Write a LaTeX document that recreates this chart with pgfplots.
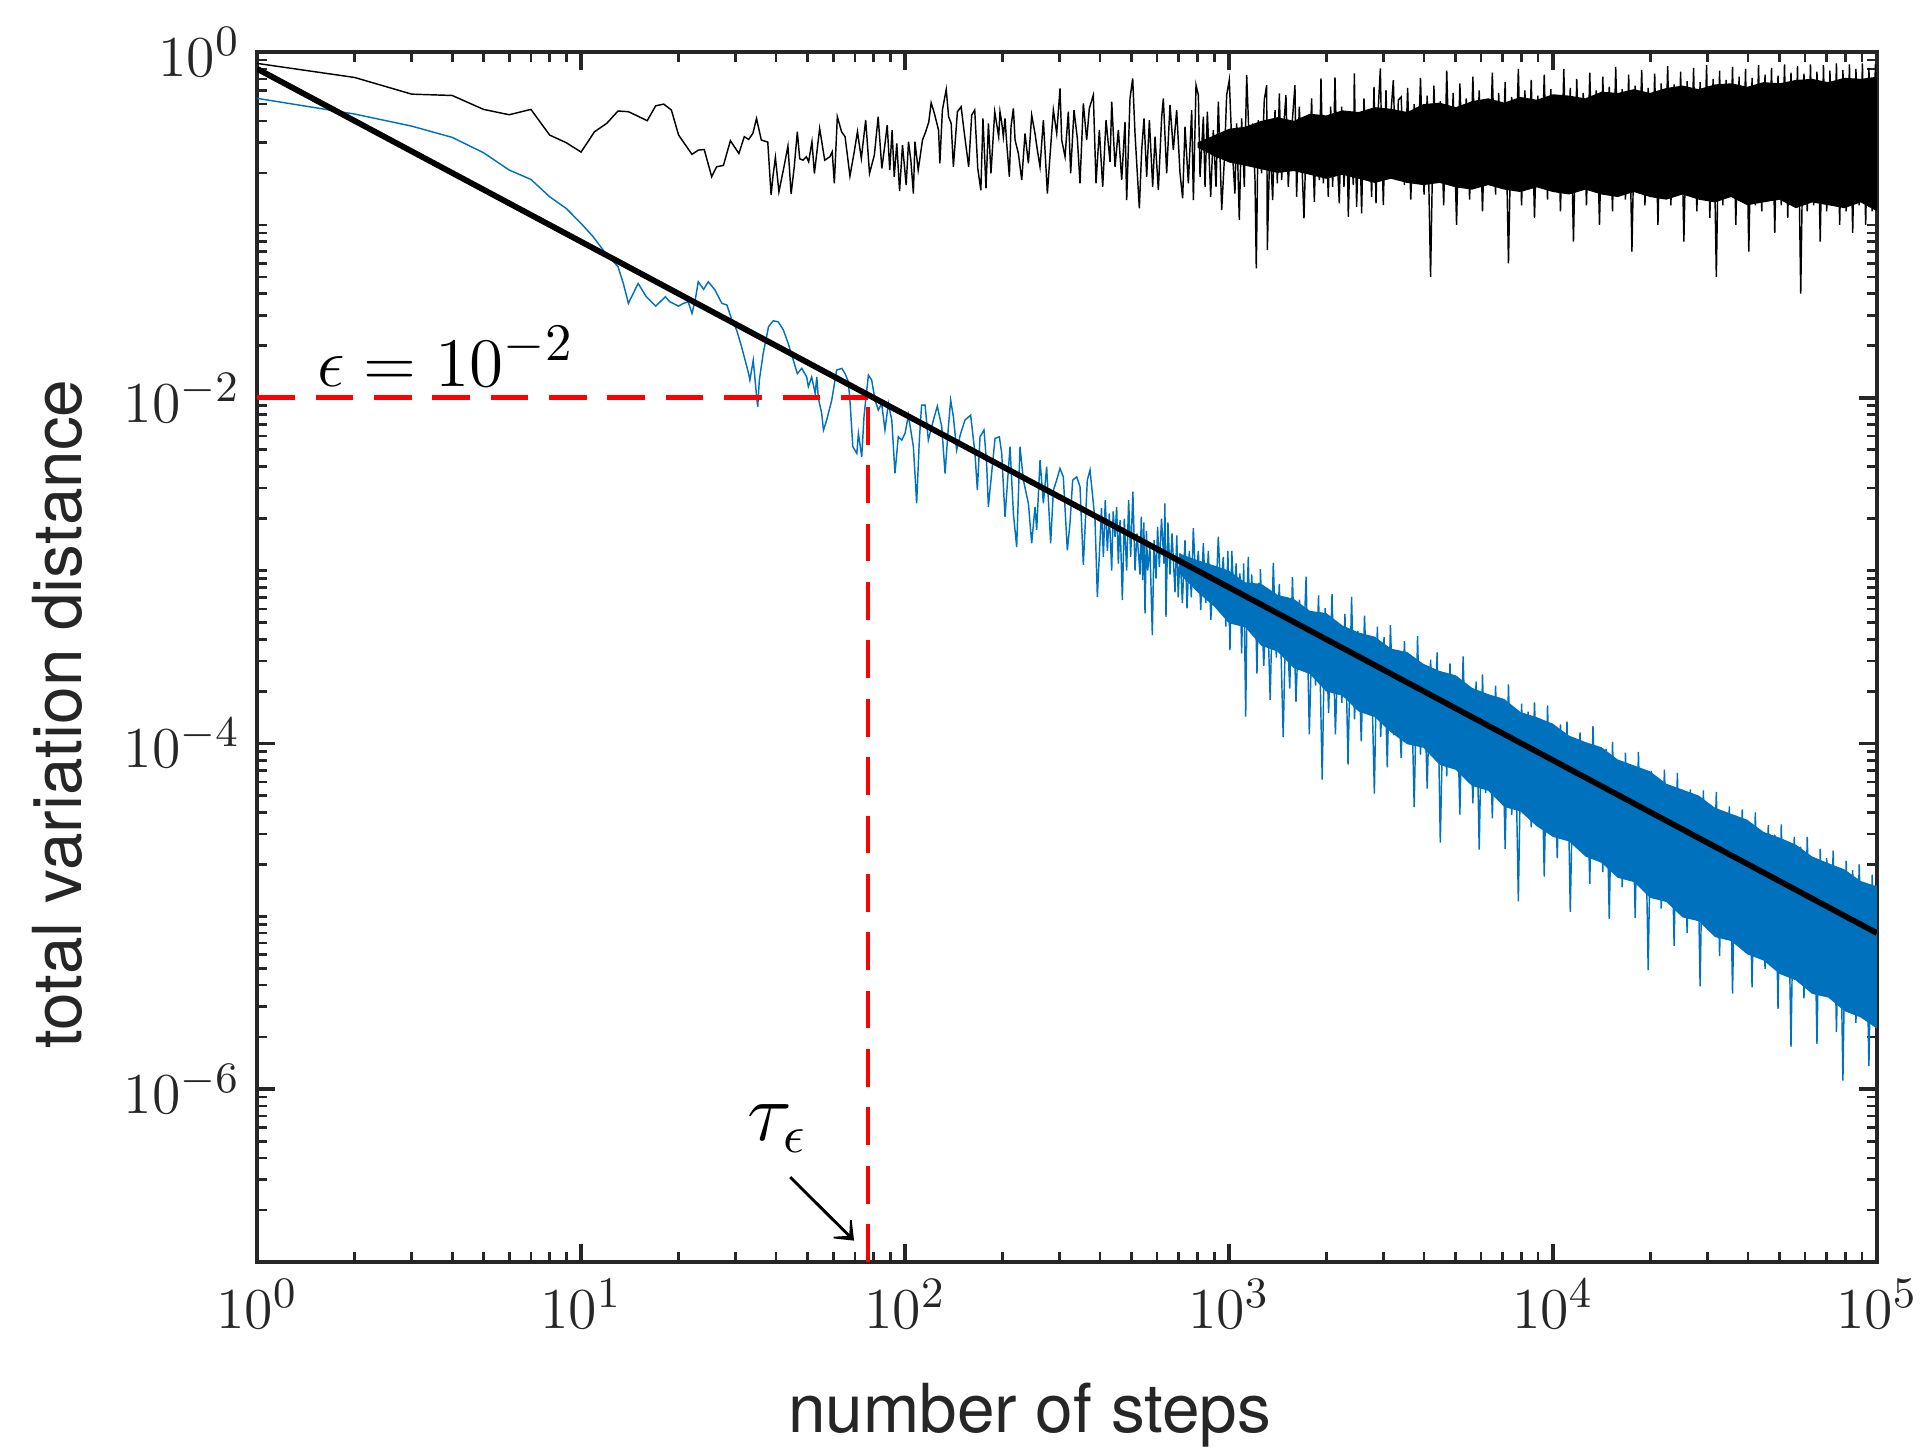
\documentclass[border=0pt]{standalone}
\usepackage{pgfplots}
\pgfplotsset{compat=1.18}
\usepackage{fontspec}
\newfontfamily\heros{TeX Gyre Heros}
\usetikzlibrary{arrows.meta}
\definecolor{axgray}{HTML}{262626}
\definecolor{mblue}{HTML}{0072BD}

\begin{document}
\begin{tikzpicture}
\path[use as bounding box] (-53.3pt,-39.8pt) rectangle (346.75pt,261.6pt);
\begin{axis}[
  at={(0,0)}, anchor=south west,
  scale only axis, width=335.75pt, height=250.8pt,
  xmode=log, ymode=log,
  xmin=1, xmax=1e5, ymin=1e-7, ymax=1,
  xtick={1,10,100,1000,10000,100000},
  ytick={1e-6,1e-4,1e-2,1},
  minor xtick={2,3,4,5,6,7,8,9,20,30,40,50,60,70,80,90,200,300,400,500,600,700,800,900,
    2000,3000,4000,5000,6000,7000,8000,9000,20000,30000,40000,50000,60000,70000,80000,90000},
  minor ytick={2e-7,3e-7,4e-7,5e-7,6e-7,7e-7,8e-7,9e-7,
    2e-6,3e-6,4e-6,5e-6,6e-6,7e-6,8e-6,9e-6,1e-5,
    2e-5,3e-5,4e-5,5e-5,6e-5,7e-5,8e-5,9e-5,
    2e-4,3e-4,4e-4,5e-4,6e-4,7e-4,8e-4,9e-4,1e-3,
    2e-3,3e-3,4e-3,5e-3,6e-3,7e-3,8e-3,9e-3,
    2e-2,3e-2,4e-2,5e-2,6e-2,7e-2,8e-2,9e-2,1e-1,
    2e-1,3e-1,4e-1,5e-1,6e-1,7e-1,8e-1,9e-1},
  tick align=inside,
  major tick length=3.7pt, minor tick length=2pt,
  tick style={axgray},
  major tick style={line width=0.8pt},
  minor tick style={line width=0.55pt},
  axis line style={line width=0.8pt, axgray},
  tick label style={font=\fontsize{12.5}{14}\selectfont, text=axgray},
  xlabel={number of steps}, ylabel={total variation distance},
  label style={font=\heros\fontsize{14}{16}\selectfont, text=axgray},
  xlabel style={at={(axis description cs:0.477,0)}, anchor=base, yshift=-35.4pt},
  ylabel style={at={(axis description cs:-0.1231,0.453)}, anchor=center},
]

% ---- chain started far from equilibrium (black, thin) ----
% solid core of the dense part of the trace
\addplot[black, draw=none, fill=black] coordinates {
 (800,0.30) (900,0.33) (1000,0.36) (1122,0.37) (1259,0.40) (1413,0.42)
 (1585,0.40) (1778,0.44) (1995,0.43) (2239,0.46) (2512,0.45) (2818,0.48) (3162,0.47) (3548,0.45) (3981,0.50)
 (4467,0.51) (5012,0.48) (5623,0.52) (6310,0.54) (7079,0.51) (7943,0.55) (8913,0.53) (10000,0.57) (11220,0.56)
 (12590,0.54) (14130,0.59) (15850,0.58) (17780,0.61) (19950,0.58) (22390,0.62) (25120,0.64) (28180,0.61)
 (31620,0.65) (35480,0.66) (39810,0.63) (44670,0.67) (50120,0.66) (56230,0.69) (63100,0.70) (70790,0.67)
 (79430,0.71) (89130,0.70) (100000,0.72)
 (100000,0.12) (89130,0.135) (79430,0.125) (70790,0.13) (63100,0.135) (56230,0.125) (50120,0.14) (44670,0.135)
 (39810,0.13) (35480,0.145) (31620,0.135) (28180,0.14) (25120,0.15) (22390,0.14) (19950,0.145) (17780,0.155)
 (15850,0.145) (14130,0.15) (12590,0.16) (11220,0.15) (10000,0.155) (8913,0.165) (7943,0.155) (7079,0.16)
 (6310,0.17) (5623,0.16) (5012,0.165) (4467,0.175) (3981,0.17) (3548,0.175) (3162,0.185) (2818,0.175)
 (2512,0.185) (2239,0.195) (1995,0.185) (1778,0.195) (1585,0.205) (1413,0.2) (1259,0.21) (1122,0.22)
 (1000,0.23) (900,0.25) (800,0.28)
} -- cycle;
\addplot[black, line width=0.3pt] coordinates {
 (1,0.86) (2,0.713) (3,0.571) (4,0.561) (5,0.466) (6,0.434) (7,0.466) (8,0.331) (9,0.299) (10,0.264)
 (11,0.346) (12,0.387) (13,0.456) (14,0.452) (15,0.425) (16,0.401) (17,0.489) (18,0.50) (19,0.462) (20,0.331)
 (21,0.29) (22,0.256) (23,0.271) (24,0.273) (25.3,0.190) (26.2,0.217) (27.5,0.221) (28.9,0.307) (30.7,0.259)
 (31.9,0.324) (32.9,0.3125) (33.9,0.338) (34.8,0.413) (36.0,0.31) (37.7,0.3015) (38.6,0.149) (39.1,0.190)
 (39.8,0.246) (40.8,0.1556) (42.3,0.217) (43.5,0.286) (44.5,0.151) (45.5,0.217) (46.5,0.346) (47.3,0.2415)
 (48.4,0.237) (49.6,0.248) (50.4,0.232) (51.6,0.303) (52.5,0.1986) (54.5,0.362) (56.5,0.237) (58.6,0.248)
 (59.6,0.265) (60.5,0.174) (61.8,0.4227) (63.7,0.346) (65.3,0.324) (67.6,0.1917) (69.7,0.265) (71.3,0.346)
 (73.3,0.2426) (75.6,0.4043) (77.7,0.1986) (80.4,0.2535) (82.6,0.4227) (84.8,0.2123) (86.5,0.2835)
 (88.1,0.378) (89.7,0.2077) (91.2,0.3537) (92.6,0.190) (94.3,0.296) (96.2,0.157) (98.2,0.2897) (100.8,0.170)
 (102.5,0.303) (104.2,0.237) (106.1,0.152) (107.3,0.303) (109.8,0.2077) (113.2,0.31) (115.8,0.346)
 (118.4,0.395) (120.4,0.509) (123.2,0.4417) (126.9,0.3537) (128.1,0.227) (130.4,0.462) (134.0,0.608)
 (136.3,0.4227) (138.8,0.3867) (141.0,0.217) (145.1,0.4517) (149.0,0.4828) (152.2,0.346) (157.2,0.217)
 (160.6,0.432) (164.1,0.462) (167.7,0.2123) (171.4,0.1585) (174.0,0.413) (177.8,0.1627) (180.9,0.3867)
 (184.2,0.1986) (189.2,0.4517) (194.6,0.324)
 (196.4,0.452) (198.7,0.395) (201.1,0.324) (203.5,0.413) (206.0,0.296) (209.9,0.190) (212.4,0.370)
 (216.0,0.472) (218.6,0.310) (223.8,0.259) (229.2,0.1817) (234.6,0.338) (240.3,0.227) (246.0,0.432)
 (251.9,0.338) (256.1,0.271) (261.0,0.217) (267.3,0.404) (275.0,0.152) (280.3,0.2535) (287.0,0.462)
 (293.9,0.338) (300.9,0.616) (304.5,0.310) (311.8,0.248) (319.2,0.452) (324.5,0.1987) (332.3,0.462)
 (340.3,0.317) (346.8,0.174) (355.1,0.505) (363.7,0.310) (370.6,0.472) (381.3,0.564) (388.6,0.174)
 (398.0,0.354) (407.5,0.1663) (417.3,0.404) (429.3,0.232) (434.5,0.516) (444.8,0.217) (455.5,0.354)
 (466.4,0.1817) (477.5,0.395) (483.2,0.1393) (494.8,0.539) (504.3,0.704) (512.7,0.338) (528.7,0.1246)
 (537.6,0.271) (546.6,0.413) (557.1,0.190) (567.8,0.404) (581.3,0.1663) (591.1,0.324) (605.2,0.159)
 (619.8,0.4225) (627.1,0.539) (642.1,0.1987) (657.5,0.494) (673.3,0.271) (689.4,0.462) (706.1,0.1987)
 (719.5,0.1424) (731.5,0.370) (749.1,0.174) (767.1,0.462) (776.3,0.1393) (791.1,0.644) (804.3,0.564)
 (813.9,0.190) (833.4,0.4225) (843.3,0.1663) (857.4,0.452) (878.0,0.1456) (894.7,0.354) (911.8,0.1663)
 (927.1,0.516) (949.4,0.122) (967.3,0.237) (983.5,0.564) (1002,0.689) (1019,0.310) (1043,0.152)
 (1056,0.387) (1076,0.1067) (1094,0.413) (1115,0.1663) (1134,0.736) (1161,0.227) (1183,0.387)
 (1203,0.1817) (1214,0.056) (1231,0.404) (1261,0.1987) (1285,0.528) (1307,0.644) (1313,0.0715)
 (1338,0.310) (1364,0.1393) (1387,0.462) (1410,0.174) (1430,0.577) (1454,0.1817) (1478,0.387)
 (1499,0.564) (1524,0.1663) (1543,0.271) (1572,0.4225) (1598,0.644) (1617,0.1456) (1648,0.483)
 (1676,0.248) (1704,0.109) (1737,0.404) (1770,0.1987) (1799,0.539) (1834,0.1362) (1865,0.4225)
 (1900,0.1817) (1923,0.704) (1955,0.174) (1993,0.354) (2025,0.1456) (2060,0.483) (2089,0.1663)
 (2124,0.714) (2149,0.2835) (2190,0.1332) (2227,0.483) (2264,0.1663) (2307,0.4225) (2335,0.1115)
 (2374,0.370) (2419,0.170) (2437,0.753) (2477,0.1274) (2525,0.4225) (2567,0.1166) (2610,0.539)
 (2660,0.1987) (2711,0.404) (2756,0.1456) (2803,0.630) (2843,0.1332) (2891,0.483) (2932,0.804)
 (2960,0.310) (2995,0.1302) (3052,0.603) (3103,0.1987) (3155,0.4225) (3216,0.689) (3278,0.1817)
 (3332,0.528)
 (3400,0.55) (3480,0.17) (3560,0.62) (3640,0.14) (3730,0.5) (3820,0.19) (3900,0.71) (4000,0.15)
 (4090,0.56) (4190,0.05) (4290,0.64) (4390,0.18) (4490,0.52) (4600,0.13) (4700,0.78) (4810,0.17)
 (4920,0.58) (5040,0.1) (5160,0.66) (5280,0.19) (5400,0.54) (5530,0.14) (5660,0.72) (5790,0.17)
 (5920,0.6) (6060,0.12) (6200,0.53) (6350,0.18) (6500,0.76) (6650,0.15) (6800,0.58) (6960,0.17)
 (7120,0.67) (7290,0.06) (7460,0.55) (7640,0.16) (7820,0.8) (8000,0.13) (8190,0.6) (8380,0.18)
 (8570,0.69) (8770,0.11) (8980,0.56) (9190,0.17) (9400,0.74) (9620,0.14) (9850,0.61) (10080,0.18)
 (10310,0.55) (10550,0.12) (10800,0.8) (11050,0.16) (11310,0.62) (11570,0.08) (11840,0.7) (12120,0.17)
 (12400,0.58) (12690,0.13) (12990,0.76) (13290,0.16) (13600,0.6) (13920,0.1) (14250,0.72) (14580,0.17)
 (14920,0.63) (15270,0.12) (15620,0.82) (15990,0.16) (16360,0.61) (16740,0.14) (17130,0.74) (17530,0.07)
 (17940,0.64) (18360,0.17) (18790,0.79) (19230,0.13) (19680,0.62) (20140,0.16) (20610,0.75) (21090,0.1)
 (21580,0.66) (22080,0.15) (22600,0.83) (23120,0.13) (23660,0.65) (24210,0.16) (24780,0.77) (25360,0.08)
 (25950,0.68) (26550,0.15) (27170,0.81) (27810,0.12) (28460,0.67) (29120,0.15) (29800,0.84) (30500,0.11)
 (31210,0.7) (31940,0.05) (32680,0.78) (33450,0.13) (34230,0.69) (35030,0.15) (35840,0.82) (36680,0.1)
 (37540,0.72) (38410,0.14) (39310,0.8) (40230,0.07) (41170,0.71) (42130,0.13) (43110,0.84) (44120,0.12)
 (45150,0.74) (46200,0.14) (47280,0.81) (48380,0.09) (49510,0.73) (50670,0.13) (51850,0.85) (53060,0.11)
 (54300,0.76) (55570,0.13) (56870,0.83) (58190,0.04) (59550,0.75) (60940,0.12) (62360,0.85) (63820,0.13)
 (65310,0.77) (66830,0.08) (68390,0.84) (69990,0.12) (71620,0.78) (73300,0.13) (75010,0.86) (76760,0.1)
 (78550,0.79) (80390,0.12) (82260,0.85) (84180,0.09) (86150,0.8) (88160,0.13) (90210,0.86) (92320,0.1)
 (94470,0.81) (96680,0.12) (98930,0.85) (100000,0.2)
};

% ---- chain started close to equilibrium (blue, thin) ----
% solid core of the dense part of the trace
\addplot[mblue, draw=none, fill=mblue] coordinates {
 (700,1.26e-3) (800,1.15e-3) (900,1.07e-3) (1000,1.0e-3) (1122,8.56e-4) (1259,8.38e-4) (1413,7.24e-4)
 (1585,6.87e-4) (1778,5.85e-4) (1995,5.69e-4) (2239,4.82e-4) (2512,4.39e-4) (2818,4.15e-4) (3162,3.54e-4)
 (3548,3.38e-4) (3981,2.89e-4) (4467,2.63e-4) (5012,2.48e-4) (5623,2.10e-4) (6310,1.93e-4) (7079,1.81e-4)
 (7943,1.52e-4) (8913,1.42e-4) (10000,1.30e-4) (11220,1.11e-4) (12590,1.02e-4) (14130,9.51e-5)
 (15850,8.08e-5) (17780,7.47e-5) (19950,6.90e-5) (22390,5.85e-5) (25120,5.41e-5) (28180,5.0e-5)
 (31620,4.25e-5) (35480,3.92e-5) (39810,3.62e-5) (44670,3.08e-5) (50120,2.85e-5) (56230,2.60e-5)
 (63100,2.22e-5) (70790,2.03e-5) (79430,1.87e-5) (89130,1.60e-5) (100000,1.49e-5)
 (100000,2.24e-6) (89130,2.6e-6) (79430,2.83e-6) (70790,3.39e-6) (63100,3.56e-6) (56230,4.26e-6)
 (50120,4.64e-6) (44670,5.55e-6) (39810,6.03e-6) (35480,7.2e-6) (31620,7.59e-6) (28180,9.37e-6)
 (25120,9.86e-6) (22390,1.21e-5) (19950,1.28e-5) (17780,1.58e-5) (15850,1.67e-5) (14130,2.04e-5)
 (12590,2.22e-5) (11220,2.71e-5) (10000,2.88e-5) (8913,3.32e-5) (7943,4.04e-5) (7079,4.29e-5)
 (6310,5.33e-5) (5623,5.68e-5) (5012,7.04e-5) (4467,7.52e-5) (3981,9.45e-5) (3548,9.9e-5) (3162,1.16e-4)
 (2818,1.42e-4) (2512,1.53e-4) (2239,1.89e-4) (1995,2.0e-4) (1778,2.52e-4) (1585,2.73e-4) (1413,3.4e-4)
 (1259,3.68e-4) (1122,4.7e-4) (1000,4.96e-4) (900,6.2e-4) (800,7.5e-4) (700,9.7e-4)
} -- cycle;
\addplot[mblue, line width=0.3pt] coordinates {
 (1,0.54) (2,0.438) (3,0.373) (4,0.321) (5,0.2616) (6,0.2077) (7,0.1834) (8,0.1455) (9,0.1245) (10,0.102)
 (10.9,0.0854) (11.7,0.0715) (12.6,0.0612) (13.0,0.0573) (13.5,0.0459) (14.0,0.0352) (15.0,0.0459)
 (15.9,0.0384) (17.0,0.0339) (18.2,0.0384) (18.8,0.0359) (20.0,0.0339) (20.7,0.0352) (21.4,0.0359)
 (22.0,0.0308) (22.5,0.0367) (23.0,0.0469) (23.9,0.0424) (24.7,0.0469) (25.9,0.042) (27.2,0.0352)
 (28.2,0.0344) (29.2,0.0282) (30.2,0.0247) (31.3,0.0197) (32.9,0.0138) (33.2,0.01266) (34.0,0.0165)
 (34.9,0.0097) (35.1,0.00888) (35.5,0.01266) (36.5,0.0181) (37.9,0.0258) (39.2,0.0279) (40.6,0.0275)
 (42.1,0.0247) (43.6,0.0206) (45.2,0.0165) (46.5,0.0138) (48.0,0.0148) (49.7,0.0132) (50.3,0.0116)
 (51.5,0.0132) (52.8,0.0106) (53.4,0.0132) (54.0,0.00993) (55.3,0.00813) (56.0,0.0065) (57.3,0.00743)
 (59.4,0.0097) (61.5,0.01446) (63.8,0.0148) (65.3,0.0138) (66.8,0.0124) (67.6,0.0097) (69.0,0.00521)
 (71.0,0.00477) (71.8,0.00622) (73.5,0.00456) (74.7,0.00776) (75.8,0.01014) (77.1,0.01353) (78.9,0.01266)
 (80.8,0.0097) (82.7,0.00849) (84.7,0.00928) (86.7,0.0065) (88.8,0.00928) (91.0,0.00743) (93.1,0.00366)
 (95.3,0.00595) (97.7,0.00569) (100,0.00622)
 (102.4,7.94e-3) (106.1,5.21e-3) (108.6,2.45e-3) (110.7,5.69e-3) (112.5,9.08e-3) (115.3,9.08e-3)
 (118.0,5.69e-3) (122.3,7.43e-3) (125.8,8.95e-3) (129.8,6.80e-3) (132.9,3.65e-3) (136.1,6.80e-3)
 (138.3,9.70e-3) (141.0,7.77e-3) (144.3,4.98e-3) (148.5,6.22e-3) (153.1,7.43e-3) (159.4,7.94e-3)
 (164.4,4.77e-3) (167.2,2.92e-3) (170.4,5.95e-3) (175.3,6.50e-3) (178.6,4.17e-3) (180.8,2.34e-3)
 (184.2,3.34e-3) (189.6,5.82e-3) (195.5,5.95e-3) (198.8,4.77e-3) (203.5,2.05e-3) (210.9,5.21e-3)
 (216.0,2.14e-3) (221.1,1.37e-3) (226.4,5.21e-3) (231.9,3.34e-3) (240.3,2.45e-3) (246.0,1.44e-3)
 (251.9,2.34e-3) (254.9,1.72e-3) (261.0,4.36e-3) (267.3,2.45e-3) (273.6,3.99e-3) (281.5,1.44e-3)
 (287.0,2.92e-3) (293.8,3.34e-3) (300.8,3.90e-3) (308.0,3.49e-3) (316.9,1.31e-3) (323.0,1.88e-3)
 (329.2,3.34e-3) (338.7,3.49e-3) (346.8,3.06e-3) (355.1,1.08e-3) (365.3,3.34e-3) (372.4,3.82e-3)
 (385.9,1.96e-3) (392.4,7.06e-4) (399.9,1.50e-3) (404,2.3e-3) (409.5,1.2e-3) (415,2.56e-3) (421.3,1.3e-3)
 (427,2.14e-3) (434.4,1.0e-3) (439,2.2e-3) (444.8,1.57e-3) (450,2.34e-3) (455.4,1.1e-3) (461,1.96e-3)
 (468.6,6.76e-4) (475,2.0e-3) (483.2,1.0e-3) (490,2.56e-3) (497.2,1.2e-3) (505,2.86e-3) (512.7,1.0e-3)
 (520,1.64e-3) (531.3,9.5e-4) (536,2.05e-3) (541.4,8.82e-4) (546,1.9e-3) (550.5,5.66e-4) (556,1.7e-3)
 (561.0,1.0e-3) (570,1.37e-3) (579.9,4.24e-4) (587,1.5e-3) (595.3,9.0e-4) (602,1.79e-3) (609.5,1.05e-3)
 (619,2.0e-3) (629.9,1.1e-3) (634,2.45e-3) (639.0,5.41e-4) (648,1.9e-3) (657.5,9.5e-4) (667,1.64e-3)
 (681.3,7.5e-4) (690,1.6e-3) (697,7.0e-4) (706.0,1.26e-3) (718,6.5e-4) (731.5,1.5e-3) (742,6.05e-4)
 (754.3,1.3e-3) (765,7.0e-4) (776.1,1.76e-3) (790,8.5e-4) (804.1,1.3e-3) (818,5.92e-4) (833.2,1.44e-3)
 (848,6.5e-4) (863.5,1.3e-3) (879,5.18e-4) (894.5,1.05e-3) (910,6.5e-4) (926.8,1.57e-3) (943,7.5e-4)
 (960.3,1.2e-3) (978,4.74e-4) (992,1.3e-3) (1007,3.47e-4) (1020,1.3e-3) (1036,7.0e-4) (1052,1.1e-3)
 (1069,5.0e-4) (1081,9.64e-4) (1094,3.32e-4) (1110,1.1e-3) (1126,1.43e-4) (1138,7.5e-4) (1147,1.20e-3)
 (1160,4.5e-4) (1175,9.5e-4) (1190,5.66e-4) (1203,8.0e-4) (1220,2.54e-4) (1235,8.5e-4) (1246,6.13e-4)
 (1250,1.02e-3) (1280,2.81e-4) (1310,7.94e-4) (1340,1.79e-4) (1370,1.11e-3) (1400,3.14e-4) (1430,8.39e-4)
 (1470,1.09e-4) (1500,6.40e-4) (1540,2.08e-4) (1570,9.18e-4) (1610,1.74e-4) (1650,6.79e-4) (1690,2.84e-4)
 (1730,9.24e-4) (1770,1.13e-4) (1810,5.75e-4) (1850,2.16e-4) (1890,7.19e-4) (1940,6.18e-5) (1980,6.06e-4)
 (2030,1.50e-4) (2080,7.32e-4) (2130,1.13e-4) (2180,4.59e-4) (2230,1.72e-4) (2280,5.62e-4) (2330,7.55e-5)
 (2390,7.04e-4) (2440,1.38e-4) (2500,4.48e-4) (2560,1.03e-4) (2620,5.49e-4) (2680,1.64e-4) (2740,3.94e-4)
 (2810,5.13e-5) (2870,4.74e-4) (2940,1.09e-4) (3010,4.12e-4) (3080,7.28e-5) (3150,4.83e-4) (3230,1.12e-4)
 (3300,3.15e-4)
 (3400,8.23e-5) (3480,3.91e-4) (3560,1.13e-4) (3640,3.19e-4) (3730,4.28e-5) (3820,4.18e-4) (3900,8.61e-5)
 (4000,2.60e-4) (4090,5.49e-5) (4190,3.06e-4) (4290,1.02e-4) (4390,3.37e-4) (4490,2.67e-5) (4600,2.44e-4)
 (4700,6.46e-5) (4810,2.91e-4) (4920,7.34e-5) (5040,2.39e-4) (5160,3.88e-5) (5280,3.19e-4) (5400,7.40e-5)
 (5530,1.96e-4) (5660,4.51e-5) (5790,2.28e-4) (5920,2.43e-5) (6060,2.51e-4) (6200,5.16e-5) (6350,1.83e-4)
 (6500,3.69e-5) (6650,2.16e-4) (6800,6.14e-5) (6960,1.78e-4) (7120,2.46e-5) (7290,2.20e-4) (7460,3.85e-5)
 (7640,1.47e-4) (7820,1.22e-5) (8000,1.70e-4) (8190,4.30e-5) (8380,1.53e-4) (8570,3.27e-5) (8770,1.73e-4)
 (8980,4.46e-5) (9190,1.26e-4) (9400,1.70e-5) (9620,1.66e-4) (9850,3.41e-5)
 (10080,1.03e-4) (10310,2.17e-5) (10550,1.29e-4) (10800,4.08e-5) (11050,1.34e-4) (11310,1.06e-5)
 (11570,9.67e-5) (11840,2.57e-5) (12120,1.16e-4) (12400,2.90e-5) (12690,9.77e-5) (12990,1.54e-5)
 (13290,1.26e-4) (13600,2.94e-5) (13920,7.76e-5) (14250,1.80e-5) (14580,9.33e-5) (14920,9.65e-6)
 (15270,1.02e-4) (15620,2.05e-5) (15990,7.50e-5) (16360,1.47e-5) (16740,8.84e-5) (17130,2.43e-5)
 (17530,7.30e-5) (17940,9.81e-6) (18360,8.94e-5) (18790,1.53e-5) (19230,6.03e-5) (19680,4.88e-6)
 (20140,6.95e-5) (20610,1.71e-5) (21090,6.25e-5) (21580,1.11e-5) (22080,7.06e-5) (22600,1.77e-5)
 (23120,5.19e-5) (23660,6.76e-6) (24210,6.77e-5) (24780,1.29e-5) (25360,4.41e-5) (25950,8.01e-6)
 (26550,5.42e-5) (27170,1.62e-5) (27810,4.90e-5) (28460,3.93e-6) (29120,5.36e-5) (29800,1.02e-5)
 (30500,4.06e-5) (31210,1.23e-5) (31940,5.25e-5) (32680,5.88e-6) (33450,3.82e-5) (34230,7.96e-6)
 (35030,4.33e-5) (35840,3.57e-6) (36680,3.82e-5) (37540,9.59e-6) (38410,4.16e-5) (39310,6.12e-6)
 (40230,2.99e-5) (41170,3.88e-6) (42130,3.99e-5) (43110,7.81e-6) (44120,2.99e-5) (45150,4.96e-6)
 (46200,3.37e-5) (47280,8.45e-6) (48380,2.97e-5) (49510,2.92e-6) (50670,3.40e-5) (51850,5.54e-6)
 (53060,2.42e-5) (54300,1.76e-6) (55570,2.88e-5) (56870,5.64e-6) (58190,2.53e-5) (59550,3.35e-6)
 (60940,2.88e-5) (62360,5.76e-6) (63820,2.13e-5) (65310,1.83e-6) (66830,2.46e-5) (68390,3.74e-6)
 (69990,2.17e-5) (71620,5.38e-6) (73300,2.40e-5) (75010,2.14e-6) (76760,1.82e-5) (78550,1.12e-6)
 (80390,2.09e-5) (82260,3.70e-6) (84180,1.85e-5) (86150,2.42e-6) (88160,2.00e-5) (90210,3.99e-6)
 (92320,1.56e-5) (94470,1.36e-6) (96680,1.74e-5) (98930,2.67e-6) (100000,1.52e-5)
};

% ---- threshold and mixing time ----
\addplot[red, line width=1pt, dash pattern=on 7.81pt off 4.29pt] coordinates {(1,0.01) (76.9,0.01)};
\addplot[red, line width=1pt, dash pattern=on 7.81pt off 4.29pt, dash phase=10.2pt] coordinates {(76.9,0.01) (76.9,1e-7)};

% ---- reference decay ~ 1/t ----
\addplot[black, line width=1.2pt] coordinates {(1,0.8) (100000,8e-6)};

\node[anchor=base west, inner sep=0pt, font=\fontsize{15}{17}\selectfont] at (axis cs:1.52,1.17e-2) {$\epsilon = 10^{-2}$};
\node[anchor=base west, inner sep=0pt, font=\fontsize{16}{18}\selectfont] at (axis cs:32.5,5.08e-7) {$\tau_\epsilon$};
\draw[-{Stealth[length=5pt,width=8pt,inset=3.6pt]}, line width=0.6pt] (axis cs:44.2,3.1e-7) -- (axis cs:69.6,1.33e-7);
\end{axis}
\end{tikzpicture}
\end{document}
